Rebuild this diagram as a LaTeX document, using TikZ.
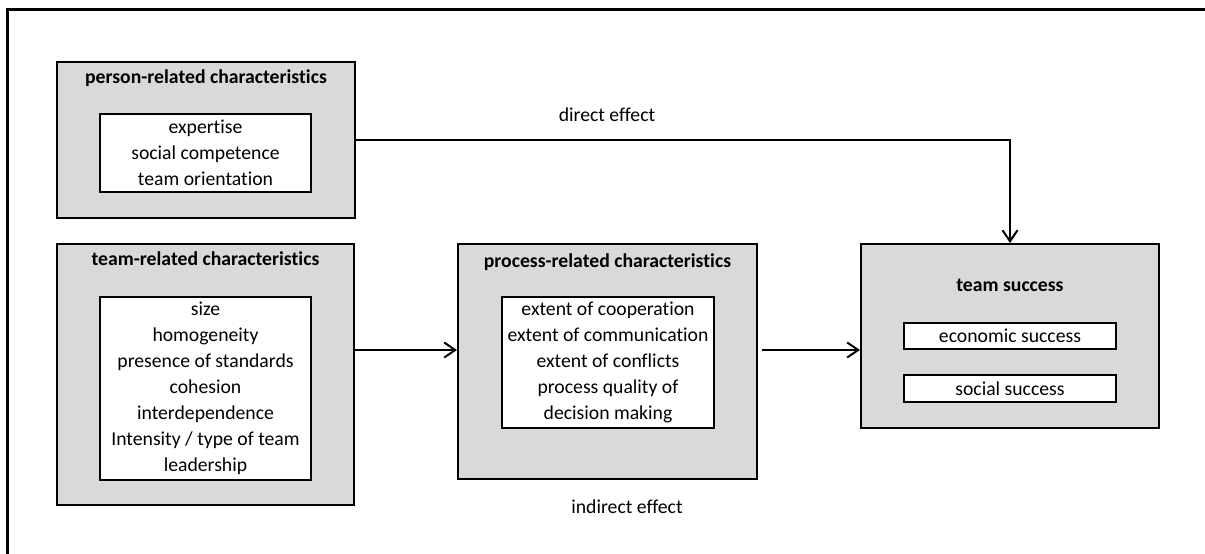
\documentclass[tikz,border=0pt]{standalone}
\usepackage{fontspec}
\setmainfont{Carlito}[RawFeature={-liga}]
\usetikzlibrary{arrows.meta}
\definecolor{boxgray}{HTML}{D9D9D9}
\newcommand{\bodyfont}{\fontsize{19.7}{26}\selectfont}
\begin{document}
\begin{tikzpicture}[x=1pt,y=-1pt,
  graybox/.style={draw=black, line width=2pt, fill=boxgray, rectangle, inner sep=0pt},
  whitebox/.style={draw=black, line width=2pt, fill=white, rectangle, inner sep=0pt,
    align=center, font=\bodyfont},
  boxtitle/.style={font=\bodyfont\bfseries, inner sep=0pt, anchor=base},
  plain/.style={font=\bodyfont, inner sep=0pt, anchor=base},
  flow/.style={line width=2pt, -{Straight Barb[length=11pt,width=15pt,line width=2pt]}}]
\useasboundingbox (0,0) rectangle (1205,554);

% partial outer frame
\draw[line width=2.5pt] (7.5,560) -- (7.5,9.5) -- (1212,9.5);

% person-related characteristics
\node[graybox, minimum width=298pt, minimum height=156pt] (person) at (206,140) {};
\node[boxtitle] (persontitle) at (206,83.5) {person-related characteristics};
\node[whitebox, minimum width=211pt, minimum height=78pt] (personin) at (205.5,153)
  {expertise\\social competence\\team orientation};

% team-related characteristics
\node[graybox, minimum width=297pt, minimum height=261pt] (team) at (205.5,374.5) {};
\node[boxtitle] (teamtitle) at (205.5,265.5) {team-related characteristics};
\node[whitebox, minimum width=211pt, minimum height=183pt] (teamin) at (205.5,388.5)
  {size\\homogeneity\\presence of standards\\cohesion\\interdependence\\Intensity / type of team\\leadership};

% process-related characteristics
\node[graybox, minimum width=299pt, minimum height=235pt] (proc) at (607.5,361.5) {};
\node[boxtitle] (proctitle) at (607.5,267.5) {process-related characteristics};
\node[whitebox, minimum width=212pt, minimum height=131pt] (procin) at (608,362.5)
  {extent of cooperation\\extent of communication\\extent of conflicts\\process quality of\\decision making};

% team success
\node[graybox, minimum width=298pt, minimum height=184pt] (succ) at (1010,336) {};
\node[boxtitle] (succtitle) at (1010,291.5) {team success};
\node[whitebox, minimum width=212pt, minimum height=26pt] (econ) at (1010,336) {economic success};
\node[whitebox, minimum width=212pt, minimum height=27pt] (social) at (1010,388.5) {social success};

% effect paths
\coordinate (flowline) at (0,350);
\coordinate (procout) at ([xshift=4pt]proc.east);
\draw[flow] (person.east) -| (succ.north);
\draw[flow] (team.east |- flowline) -- (proc.west |- flowline);
\draw[flow] (procout |- flowline) -- (succ.west |- flowline);

\node[plain] (direct) at (607,121) {direct effect};
\node[plain] (indirect) at (627,513) {indirect effect};
\end{tikzpicture}
\end{document}
